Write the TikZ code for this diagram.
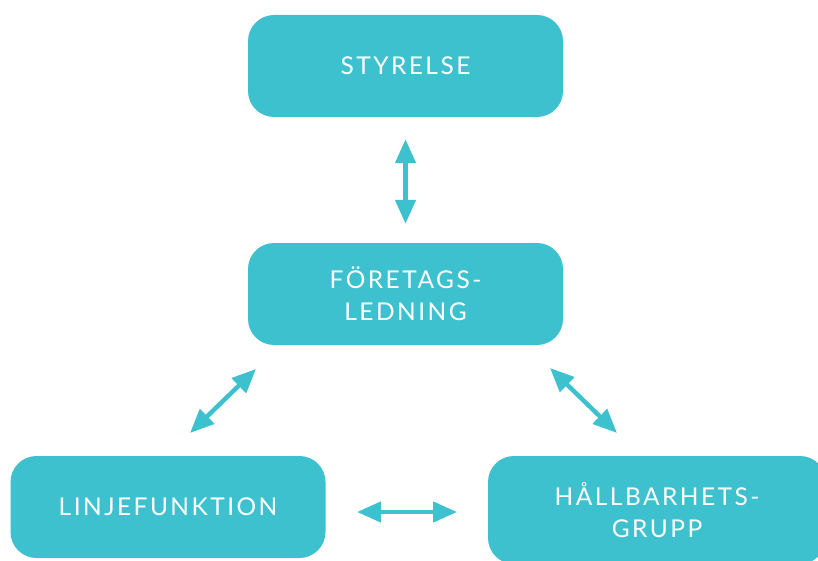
\documentclass[tikz,border=0pt]{standalone}
\usepackage{fontspec}
\setmainfont{Lato}
\newfontfamily\boxfont{Lato}[LetterSpace=10]
\usepackage{xcolor}
\usetikzlibrary{arrows.meta,positioning,calc}
\definecolor{teal}{HTML}{3EC1CF}

\begin{document}
\begin{tikzpicture}[
    x=1pt, y=-1pt,
    box/.style={fill=teal, rounded corners=26pt, minimum width=315pt, minimum height=102pt,
                align=center, text=white, font=\boxfont\fontsize{24.5}{32}\selectfont},
    arr/.style={{Triangle[length=24pt,width=20pt]}-{Triangle[length=24pt,width=20pt]}, line width=4.5pt, teal}
]
\useasboundingbox (0,0) rectangle (818,561);
\clip (0,0) rectangle (818,561);

% boxes
\node[box] (styrelse) at (405.5,66) {STYRELSE};
\node[box] (ledning) at (405.5,294) {FÖRETAGS-\\LEDNING};
\node[box] (linje) at (168,507) {LINJEFUNKTION};
\node[box, minimum width=338pt, minimum height=108pt] (hallbar) at (657,510) {HÅLLBARHETS-\\GRUPP};

% arrow ends
\coordinate (lu) at (256,369);
\coordinate (ld) at (190,433);
\coordinate (ru) at (550,368);
\coordinate (rd) at (617,433);
\coordinate (hl) at (357,512);
\coordinate (hr) at (457,512);

% arrows
\draw[arr, shorten <=22pt, shorten >=19pt] (styrelse.south) -- (ledning.north);
\draw[arr] (lu) -- (ld);
\draw[arr] (ru) -- (rd);
\draw[arr] (hl) -- (hr);
\end{tikzpicture}
\end{document}
